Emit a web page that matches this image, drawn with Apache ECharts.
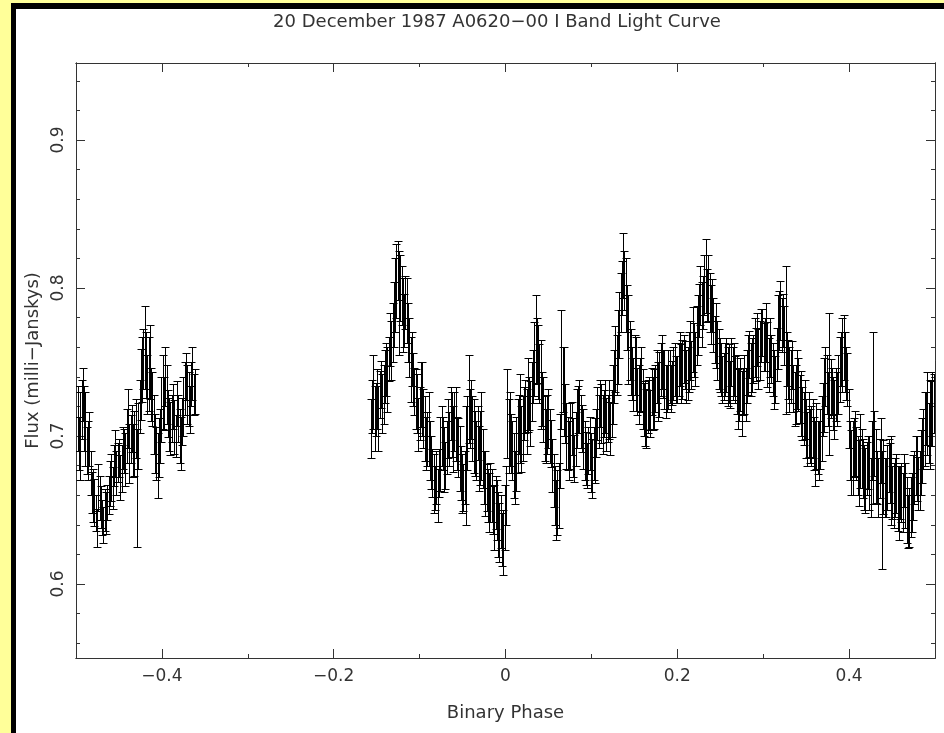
<!DOCTYPE html>
<html><head><meta charset="utf-8">
<script src="https://cdn.jsdelivr.net/npm/echarts@6/dist/echarts.min.js"></script>
<style>
html,body{margin:0;padding:0;width:944px;height:733px;overflow:hidden;background:#ffff99;}
#frame{position:absolute;left:11px;top:3px;width:1000px;height:800px;border-left:5px solid #000;border-top:6px solid #000;background:#fff;}
#chart{position:absolute;left:0;top:0;width:944px;height:733px;}
</style></head><body><div id="frame"></div><div id="chart"></div>
<script>
const titleText = '20 December 1987 A0620\u221200 I Band Light Curve';
const xName = 'Binary Phase';
const yName = 'Flux (milli\u2212Janskys)';
const xMajor = [-0.4, -0.2, 0, 0.2, 0.4];
const xMinor = [-0.3, -0.1, 0.1, 0.3];
const yMajor = [0.6, 0.7, 0.8, 0.9];
const yMinor = [0.56, 0.58, 0.62, 0.64, 0.66, 0.68, 0.72, 0.74, 0.76, 0.78, 0.82, 0.84, 0.86, 0.88, 0.92, 0.94];

// segment 1, set A
const phase1 = [-0.498,-0.495,-0.492,-0.489,-0.486,-0.483,-0.480,-0.477,-0.474,-0.471,
 -0.468,-0.465,-0.462,-0.459,-0.456,-0.453,-0.450,-0.447,-0.444,-0.441,
 -0.438,-0.435,-0.432,-0.429,-0.426,-0.423,-0.420,-0.417,-0.414,-0.411,
 -0.408,-0.405,-0.402,-0.399,-0.396,-0.393,-0.390,-0.387,-0.384,-0.381,
 -0.378,-0.375,-0.372,-0.369,-0.366,-0.363];
const flux1 = [0.712,0.700,0.728,0.705,0.690,0.675,0.660,0.648,0.665,0.652,
 0.640,0.648,0.660,0.672,0.680,0.675,0.685,0.678,0.690,0.700,
 0.688,0.705,0.695,0.665,0.720,0.745,0.760,0.735,0.750,0.725,
 0.695,0.680,0.700,0.730,0.740,0.715,0.705,0.720,0.700,0.712,
 0.695,0.720,0.740,0.725,0.735,0.728];
const err1 = [0.022,0.030,0.018,0.025,0.020,0.015,0.018,0.012,0.016,0.014,
 0.012,0.014,0.013,0.016,0.014,0.015,0.013,0.016,0.015,0.018,
 0.020,0.016,0.022,0.040,0.018,0.022,0.028,0.020,0.025,0.018,
 0.020,0.022,0.018,0.025,0.020,0.016,0.018,0.015,0.014,0.016,
 0.018,0.020,0.016,0.018,0.015,0.014];
// segment 1, set B
const phase1b = [-0.4965,-0.4935,-0.4905,-0.4875,-0.4845,-0.4815,-0.4785,-0.4755,-0.4725,-0.4695,
 -0.4665,-0.4635,-0.4605,-0.4575,-0.4545,-0.4515,-0.4485,-0.4455,-0.4425,-0.4395,
 -0.4365,-0.4335,-0.4305,-0.4275,-0.4245,-0.4215,-0.4185,-0.4155,-0.4125,-0.4095,
 -0.4065,-0.4035,-0.4005,-0.3975,-0.3945,-0.3915,-0.3885,-0.3855,-0.3825,-0.3795,
 -0.3765,-0.3735,-0.3705,-0.3675,-0.3645,-0.3615];
const flux1b = [0.695,0.718,0.712,0.690,0.698,0.662,0.655,0.638,0.658,0.645,
 0.650,0.655,0.668,0.665,0.688,0.682,0.672,0.692,0.684,0.712,
 0.698,0.690,0.705,0.700,0.735,0.752,0.748,0.742,0.728,0.708,
 0.688,0.692,0.718,0.722,0.728,0.708,0.712,0.706,0.722,0.700,
 0.710,0.732,0.728,0.718,0.742,0.730];
const err1b = [0.018,0.020,0.022,0.016,0.018,0.014,0.016,0.013,0.015,0.012,
 0.014,0.012,0.015,0.014,0.016,0.013,0.015,0.014,0.018,0.020,
 0.016,0.018,0.020,0.022,0.024,0.020,0.022,0.025,0.018,0.020,
 0.018,0.020,0.022,0.018,0.020,0.018,0.016,0.018,0.015,0.018,
 0.016,0.018,0.020,0.016,0.018,0.015];

// segment 2, set A
const phase2 = [-0.157,-0.154,-0.151,-0.148,-0.145,-0.142,-0.139,-0.136,-0.133,-0.130,
 -0.127,-0.124,-0.121,-0.118,-0.115,-0.112,-0.109,-0.106,-0.103,-0.100,
 -0.097,-0.094,-0.091,-0.088,-0.085,-0.082,-0.079,-0.076,-0.073,-0.070,
 -0.067,-0.064,-0.061,-0.058,-0.055,-0.052,-0.049,-0.046,-0.043,-0.040,
 -0.037,-0.034,-0.031,-0.028,-0.025,-0.022,-0.019,-0.016,-0.013,-0.010,
 -0.007,-0.004,-0.001,0.002,0.005,0.008,0.011,0.014,0.017,0.020,
 0.023,0.026,0.029,0.032,0.035,0.038,0.041,0.044,0.047,0.050,
 0.053,0.056,0.059,0.062,0.065,0.068,0.071,0.074,0.077,0.080,
 0.083,0.086,0.089,0.092,0.095,0.098,0.101,0.104,0.107,0.110,
 0.113,0.116,0.119,0.122,0.125,0.128,0.131,0.134,0.137,0.140,
 0.143,0.146,0.149,0.152,0.155,0.158,0.161,0.164,0.167,0.170,
 0.173,0.176,0.179,0.182,0.185,0.188,0.191,0.194,0.197,0.200,
 0.203,0.206,0.209,0.212,0.215,0.218,0.221,0.224,0.227,0.230,
 0.233,0.236,0.239,0.242,0.245,0.248,0.251,0.254,0.257,0.260,
 0.263,0.266,0.269,0.272,0.275,0.278,0.281,0.284,0.287,0.290,
 0.293,0.296,0.299,0.302,0.305,0.308,0.311,0.314,0.317,0.320,
 0.323,0.326,0.329,0.332,0.335,0.338,0.341,0.344,0.347,0.350,
 0.353,0.356,0.359,0.362,0.365,0.368,0.371,0.374,0.377,0.380,
 0.383,0.386,0.389,0.392,0.395,0.398,0.401,0.404,0.407,0.410,
 0.413,0.416,0.419,0.422,0.425,0.428,0.431,0.434,0.437,0.440,
 0.443,0.446,0.449,0.452,0.455,0.458,0.461,0.464,0.467,0.470,
 0.473,0.476,0.479,0.482,0.485,0.488,0.491,0.494,0.497];
const flux2 = [0.705,0.730,0.718,0.712,0.735,0.728,0.745,0.752,0.758,0.782,
 0.805,0.790,0.795,0.778,0.785,0.760,0.752,0.730,0.722,0.715,
 0.725,0.705,0.698,0.690,0.675,0.665,0.660,0.688,0.695,0.680,
 0.705,0.715,0.698,0.708,0.692,0.675,0.665,0.680,0.725,0.718,
 0.700,0.690,0.685,0.700,0.672,0.665,0.655,0.660,0.645,0.650,
 0.635,0.630,0.645,0.715,0.705,0.690,0.672,0.700,0.712,0.705,
 0.720,0.728,0.715,0.740,0.765,0.750,0.735,0.718,0.700,0.712,
 0.695,0.670,0.650,0.660,0.745,0.730,0.700,0.690,0.705,0.685,
 0.712,0.720,0.705,0.690,0.680,0.695,0.678,0.690,0.715,0.722,
 0.708,0.720,0.712,0.705,0.728,0.752,0.760,0.790,0.815,0.795,
 0.765,0.750,0.735,0.742,0.728,0.738,0.718,0.712,0.722,0.730,
 0.725,0.740,0.735,0.750,0.738,0.732,0.740,0.736,0.745,0.738,
 0.752,0.745,0.748,0.742,0.758,0.765,0.752,0.775,0.795,0.790,
 0.808,0.800,0.782,0.775,0.768,0.752,0.745,0.740,0.748,0.742,
 0.750,0.745,0.735,0.728,0.722,0.735,0.740,0.755,0.748,0.760,
 0.765,0.758,0.770,0.762,0.755,0.760,0.745,0.738,0.770,0.785,
 0.778,0.765,0.745,0.740,0.732,0.728,0.735,0.722,0.712,0.705,
 0.708,0.700,0.695,0.700,0.690,0.705,0.728,0.735,0.735,0.730,
 0.718,0.725,0.745,0.755,0.750,0.738,0.690,0.685,0.695,0.680,
 0.690,0.678,0.670,0.682,0.665,0.712,0.680,0.665,0.690,0.672,
 0.665,0.680,0.670,0.660,0.668,0.655,0.662,0.670,0.650,0.645,
 0.655,0.672,0.678,0.670,0.690,0.705,0.715,0.708,0.718];
const err2 = [0.020,0.025,0.018,0.022,0.016,0.020,0.018,0.015,0.020,0.022,
 0.025,0.035,0.020,0.018,0.022,0.020,0.018,0.016,0.020,0.018,
 0.025,0.022,0.018,0.020,0.016,0.015,0.018,0.025,0.018,0.016,
 0.020,0.018,0.022,0.025,0.020,0.018,0.016,0.040,0.030,0.020,
 0.025,0.020,0.022,0.030,0.018,0.016,0.020,0.018,0.022,0.020,
 0.020,0.018,0.022,0.030,0.025,0.020,0.018,0.025,0.030,0.022,
 0.018,0.025,0.022,0.018,0.030,0.025,0.030,0.022,0.018,0.020,
 0.016,0.018,0.020,0.022,0.040,0.030,0.022,0.020,0.018,0.016,
 0.020,0.018,0.016,0.020,0.015,0.018,0.020,0.022,0.018,0.016,
 0.020,0.018,0.016,0.018,0.020,0.022,0.025,0.020,0.022,0.025,
 0.030,0.022,0.018,0.025,0.020,0.022,0.018,0.020,0.018,0.016,
 0.020,0.018,0.022,0.018,0.020,0.016,0.018,0.015,0.018,0.016,
 0.018,0.020,0.016,0.018,0.020,0.022,0.018,0.020,0.020,0.018,
 0.025,0.022,0.020,0.018,0.022,0.020,0.018,0.016,0.018,0.020,
 0.016,0.018,0.020,0.018,0.022,0.020,0.018,0.016,0.018,0.020,
 0.018,0.020,0.016,0.018,0.022,0.020,0.018,0.016,0.025,0.020,
 0.018,0.050,0.020,0.018,0.016,0.020,0.018,0.022,0.018,0.020,
 0.022,0.020,0.018,0.022,0.020,0.022,0.025,0.020,0.048,0.016,
 0.020,0.018,0.022,0.025,0.020,0.018,0.020,0.025,0.022,0.020,
 0.025,0.020,0.022,0.018,0.020,0.058,0.025,0.020,0.022,0.025,
 0.020,0.018,0.030,0.022,0.020,0.025,0.020,0.018,0.022,0.020,
 0.020,0.018,0.022,0.020,0.022,0.025,0.028,0.030,0.025];
// segment 2, set B
const phase2b = [-0.1555,-0.1525,-0.1495,-0.1465,-0.1435,-0.1405,-0.1375,-0.1345,-0.1315,-0.1285,
 -0.1255,-0.1225,-0.1195,-0.1165,-0.1135,-0.1105,-0.1075,-0.1045,-0.1015,-0.0985,
 -0.0955,-0.0925,-0.0895,-0.0865,-0.0835,-0.0805,-0.0775,-0.0745,-0.0715,-0.0685,
 -0.0655,-0.0625,-0.0595,-0.0565,-0.0535,-0.0505,-0.0475,-0.0445,-0.0415,-0.0385,
 -0.0355,-0.0325,-0.0295,-0.0265,-0.0235,-0.0205,-0.0175,-0.0145,-0.0115,-0.0085,
 -0.0055,-0.0025,0.0005,0.0035,0.0065,0.0095,0.0125,0.0155,0.0185,0.0215,
 0.0245,0.0275,0.0305,0.0335,0.0365,0.0395,0.0425,0.0455,0.0485,0.0515,
 0.0545,0.0575,0.0605,0.0635,0.0665,0.0695,0.0725,0.0755,0.0785,0.0815,
 0.0845,0.0875,0.0905,0.0935,0.0965,0.0995,0.1025,0.1055,0.1085,0.1115,
 0.1145,0.1175,0.1205,0.1235,0.1265,0.1295,0.1325,0.1355,0.1385,0.1415,
 0.1445,0.1475,0.1505,0.1535,0.1565,0.1595,0.1625,0.1655,0.1685,0.1715,
 0.1745,0.1775,0.1805,0.1835,0.1865,0.1895,0.1925,0.1955,0.1985,0.2015,
 0.2045,0.2075,0.2105,0.2135,0.2165,0.2195,0.2225,0.2255,0.2285,0.2315,
 0.2345,0.2375,0.2405,0.2435,0.2465,0.2495,0.2525,0.2555,0.2585,0.2615,
 0.2645,0.2675,0.2705,0.2735,0.2765,0.2795,0.2825,0.2855,0.2885,0.2915,
 0.2945,0.2975,0.3005,0.3035,0.3065,0.3095,0.3125,0.3155,0.3185,0.3215,
 0.3245,0.3275,0.3305,0.3335,0.3365,0.3395,0.3425,0.3455,0.3485,0.3515,
 0.3545,0.3575,0.3605,0.3635,0.3665,0.3695,0.3725,0.3755,0.3785,0.3815,
 0.3845,0.3875,0.3905,0.3935,0.3965,0.3995,0.4025,0.4055,0.4085,0.4115,
 0.4145,0.4175,0.4205,0.4235,0.4265,0.4295,0.4325,0.4355,0.4385,0.4415,
 0.4445,0.4475,0.4505,0.4535,0.4565,0.4595,0.4625,0.4655,0.4685,0.4715,
 0.4745,0.4775,0.4805,0.4835,0.4865,0.4895,0.4925,0.4955,0.4985];
const flux2b = [0.720,0.712,0.725,0.728,0.722,0.740,0.738,0.765,0.770,0.795,
 0.812,0.800,0.782,0.790,0.770,0.745,0.738,0.725,0.708,0.728,
 0.712,0.695,0.705,0.682,0.668,0.672,0.675,0.700,0.684,0.692,
 0.698,0.708,0.710,0.695,0.685,0.668,0.672,0.702,0.712,0.705,
 0.695,0.702,0.692,0.685,0.668,0.660,0.662,0.650,0.655,0.640,
 0.642,0.628,0.660,0.700,0.695,0.680,0.688,0.708,0.698,0.715,
 0.710,0.722,0.730,0.752,0.758,0.742,0.725,0.705,0.708,0.700,
 0.680,0.660,0.655,0.690,0.738,0.715,0.695,0.700,0.692,0.698,
 0.718,0.710,0.698,0.685,0.690,0.682,0.688,0.702,0.710,0.715,
 0.715,0.708,0.718,0.715,0.740,0.748,0.775,0.800,0.805,0.780,
 0.758,0.742,0.748,0.730,0.735,0.725,0.715,0.720,0.715,0.722,
 0.732,0.730,0.745,0.742,0.730,0.738,0.732,0.742,0.738,0.745,
 0.742,0.752,0.740,0.750,0.748,0.758,0.768,0.785,0.782,0.802,
 0.795,0.790,0.788,0.765,0.758,0.748,0.738,0.745,0.740,0.735,
 0.742,0.738,0.725,0.735,0.730,0.728,0.748,0.745,0.752,0.755,
 0.752,0.768,0.760,0.770,0.748,0.752,0.738,0.755,0.778,0.775,
 0.768,0.752,0.738,0.748,0.725,0.738,0.725,0.715,0.718,0.698,
 0.700,0.705,0.688,0.692,0.698,0.718,0.740,0.725,0.732,0.722,
 0.728,0.735,0.752,0.760,0.742,0.712,0.682,0.692,0.688,0.675,
 0.685,0.672,0.678,0.675,0.690,0.695,0.672,0.678,0.650,0.665,
 0.672,0.675,0.662,0.665,0.658,0.662,0.655,0.660,0.642,0.652,
 0.665,0.680,0.668,0.682,0.698,0.712,0.702,0.715,0.722];
const err2b = [0.018,0.022,0.020,0.016,0.020,0.018,0.022,0.018,0.020,0.025,
 0.020,0.022,0.025,0.018,0.020,0.022,0.018,0.020,0.018,0.022,
 0.020,0.018,0.025,0.018,0.020,0.018,0.016,0.020,0.022,0.018,
 0.018,0.022,0.020,0.018,0.022,0.020,0.018,0.025,0.020,0.022,
 0.022,0.018,0.025,0.020,0.022,0.018,0.020,0.016,0.018,0.022,
 0.018,0.022,0.020,0.025,0.020,0.022,0.025,0.020,0.022,0.018,
 0.022,0.018,0.020,0.025,0.022,0.020,0.018,0.022,0.020,0.018,
 0.018,0.020,0.022,0.025,0.022,0.020,0.018,0.022,0.020,0.018,
 0.016,0.018,0.020,0.018,0.016,0.020,0.018,0.016,0.018,0.020,
 0.016,0.018,0.020,0.016,0.018,0.020,0.022,0.018,0.020,0.022,
 0.020,0.018,0.020,0.016,0.018,0.020,0.022,0.018,0.016,0.018,
 0.016,0.020,0.018,0.016,0.018,0.020,0.016,0.018,0.016,0.018,
 0.020,0.016,0.018,0.020,0.016,0.018,0.020,0.018,0.022,0.020,
 0.018,0.020,0.018,0.016,0.020,0.018,0.016,0.018,0.020,0.016,
 0.018,0.016,0.020,0.018,0.016,0.018,0.020,0.018,0.016,0.018,
 0.020,0.018,0.016,0.020,0.018,0.016,0.020,0.018,0.020,0.018,
 0.020,0.018,0.022,0.016,0.018,0.020,0.016,0.018,0.020,0.018,
 0.018,0.020,0.022,0.018,0.020,0.018,0.020,0.018,0.020,0.018,
 0.018,0.020,0.018,0.022,0.018,0.020,0.022,0.020,0.018,0.022,
 0.020,0.022,0.018,0.025,0.020,0.022,0.018,0.020,0.040,0.020,
 0.022,0.020,0.018,0.020,0.022,0.018,0.020,0.022,0.018,0.020,
 0.022,0.020,0.018,0.022,0.020,0.018,0.020,0.022,0.020];

const FONT = 'DejaVu Sans';
const TXT = '#333';
const AXC = '#333';

function pack(p, f, e) { return p.map((v, i) => [v, f[i], e[i]]); }

function renderBar(params, api) {
  const x = api.value(0), y = api.value(1), e = api.value(2);
  const t = api.coord([x, y + e]);
  const b = api.coord([x, y - e]);
  const cx = Math.round(t[0]) + 0.5, w = 4;
  const ty = Math.round(t[1]) + 0.5, by = Math.round(b[1]) + 0.5;
  const st = { stroke: '#000', lineWidth: 1 };
  return { type: 'group', children: [
    { type: 'line', shape: { x1: cx, y1: ty, x2: cx, y2: by }, style: st },
    { type: 'line', shape: { x1: cx - w, y1: ty, x2: cx + w, y2: ty }, style: st },
    { type: 'line', shape: { x1: cx - w, y1: by, x2: cx + w, y2: by }, style: st }
  ]};
}

const minus = v => String(v).replace('-', '\u2212');

function xAx(pos, vals, len, labels) {
  const a = {
    type: 'value', min: -0.5, max: 0.5, position: pos, gridIndex: 0,
    axisLine: { show: true, onZero: false, lineStyle: { color: AXC, width: 1 } },
    axisTick: { show: true, inside: true, length: len, customValues: vals, lineStyle: { color: AXC, width: 1 } },
    axisLabel: { show: labels, customValues: vals, margin: 10, color: TXT, fontFamily: FONT, fontSize: 17,
      formatter: v => minus(Math.round(v * 10) / 10) },
    splitLine: { show: false }
  };
  if (labels) { a.name = xName; a.nameLocation = 'middle'; a.nameGap = 46;
    a.nameTextStyle = { color: TXT, fontFamily: FONT, fontSize: 18 }; }
  return a;
}
function yAx(pos, vals, len, labels) {
  const a = {
    type: 'value', min: 0.55, max: 0.952, position: pos, gridIndex: 0,
    axisLine: { show: true, onZero: false, lineStyle: { color: AXC, width: 1 } },
    axisTick: { show: true, inside: true, length: len, customValues: vals, lineStyle: { color: AXC, width: 1 } },
    axisLabel: { show: labels, customValues: vals, rotate: 90, margin: 9, color: TXT, fontFamily: FONT, fontSize: 17,
      formatter: v => (Math.round(v * 10) / 10).toFixed(1) },
    splitLine: { show: false }
  };
  if (labels) { a.name = yName; a.nameLocation = 'middle'; a.nameGap = 34; a.nameRotate = 90;
    a.nameTextStyle = { color: TXT, fontFamily: FONT, fontSize: 18 }; }
  return a;
}

const chart = echarts.init(document.getElementById('chart'), null, { renderer: 'canvas' });
chart.setOption({
  animation: false,
  backgroundColor: 'transparent',
  grid: { left: 76, right: 9, top: 63, bottom: 75, containLabel: false },
  graphic: [{ type: 'text', x: 497, y: 22, style: { text: titleText, fill: TXT, font: '18px "DejaVu Sans"', textAlign: 'center', textVerticalAlign: 'middle' } }],
  xAxis: [xAx('bottom', xMajor, 9, true), xAx('bottom', xMinor, 4, false), xAx('top', xMajor, 9, false), xAx('top', xMinor, 4, false)],
  yAxis: [yAx('left', yMajor, 9, true), yAx('left', yMinor, 4, false), yAx('right', yMajor, 9, false), yAx('right', yMinor, 4, false)],
  series: [
    { type: 'custom', xAxisIndex: 0, yAxisIndex: 0, renderItem: renderBar, data: pack(phase1, flux1, err1), silent: true, clip: true },
    { type: 'custom', xAxisIndex: 0, yAxisIndex: 0, renderItem: renderBar, data: pack(phase1b, flux1b, err1b), silent: true, clip: true },
    { type: 'custom', xAxisIndex: 0, yAxisIndex: 0, renderItem: renderBar, data: pack(phase2, flux2, err2), silent: true, clip: true },
    { type: 'custom', xAxisIndex: 0, yAxisIndex: 0, renderItem: renderBar, data: pack(phase2b, flux2b, err2b), silent: true, clip: true }
  ]
});
</script></body></html>
